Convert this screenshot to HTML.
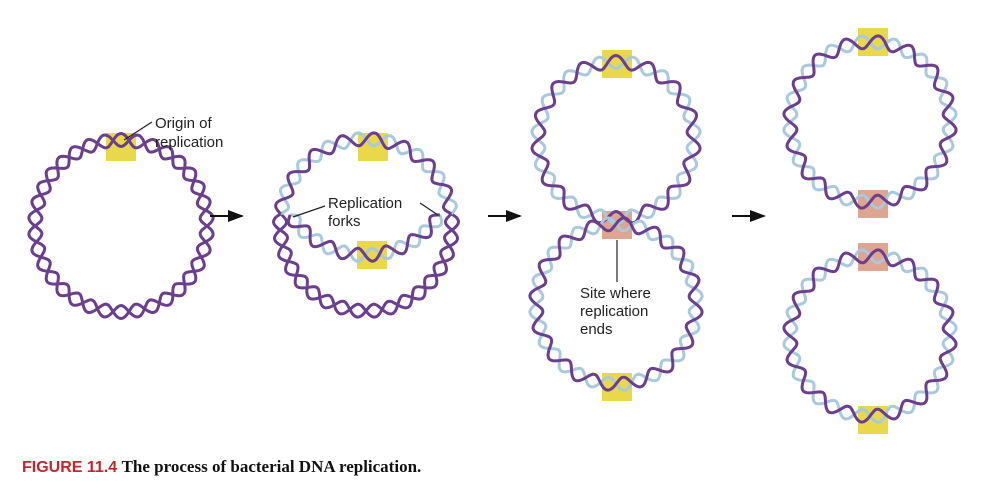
<!DOCTYPE html>
<html><head><meta charset="utf-8"><style>
html,body{margin:0;padding:0;background:#fff;}
svg{display:block}
</style></head><body>
<svg id="s" width="1000" height="493" viewBox="0 0 1000 493" xmlns="http://www.w3.org/2000/svg">
<defs><marker id="ah" markerWidth="8" markerHeight="6" refX="7" refY="3" orient="auto" markerUnits="strokeWidth"><path d="M0,0 L8,3 L0,6 z" fill="#111"/></marker></defs>
<g id="boxes"></g>
<g id="helix"></g>
<g stroke="#222" stroke-width="1.2" fill="none">
<line x1="124" y1="140" x2="152" y2="122"/>
<line x1="293" y1="217" x2="325" y2="206"/>
<line x1="420" y1="203" x2="438" y2="215"/>
<line x1="617" y1="240" x2="617" y2="282"/>
</g>
<g stroke="#111" stroke-width="2">
<line x1="210" y1="216" x2="242" y2="216" marker-end="url(#ah)"/>
<line x1="488" y1="216" x2="520" y2="216" marker-end="url(#ah)"/>
<line x1="732" y1="216" x2="764" y2="216" marker-end="url(#ah)"/>
</g>
<g font-family="Liberation Sans, sans-serif" font-size="15" fill="#222">
<text x="155" y="128">Origin of</text><text x="155" y="147">replication</text>
<text x="328" y="208">Replication</text><text x="328" y="226">forks</text>
<text x="580" y="298">Site where</text><text x="580" y="316">replication</text><text x="580" y="334">ends</text>
</g>
<text x="22" y="472" font-family="Liberation Sans, sans-serif" font-weight="bold" font-size="16" fill="#c8242b">FIGURE 11.4 <tspan font-family="Liberation Serif, serif" fill="#111" font-size="17">The process of bacterial DNA replication.</tspan></text>
</svg>
<script>
var P="#6b3f8e",B="#a9c9dd";
var g=document.getElementById('helix'),bx=document.getElementById('boxes');
function arc(cx,cy,r,a0,a1,c1,c2){
  var len=Math.abs(a1-a0)*r,n=Math.ceil(len/1.5),per=len/Math.max(1,Math.round(len/32)),amp=6.5;
  [[-1,c2],[1,c1]].forEach(function(sd){
    var d="";
    for(var i=0;i<=n;i++){var t=a0+(a1-a0)*i/n,s=len*i/n;
      var rr=r+sd[0]*amp*Math.sin(2*Math.PI*s/per);
      d+=(i?"L":"M")+(cx+rr*Math.cos(t)).toFixed(1)+","+(cy+rr*Math.sin(t)).toFixed(1);}
    var p=document.createElementNS("http://www.w3.org/2000/svg","path");
    p.setAttribute("d",d);p.setAttribute("fill","none");p.setAttribute("stroke",sd[1]);p.setAttribute("stroke-width","3");
    g.appendChild(p);
  });
}
function circ(cx,cy,r,c1,c2){arc(cx,cy,r,0,2*Math.PI,c1,c2);}
function box(x,y,c){var r=document.createElementNS("http://www.w3.org/2000/svg","rect");
 r.setAttribute("x",x-15);r.setAttribute("y",y-14);r.setAttribute("width",30);r.setAttribute("height",28);r.setAttribute("fill",c);bx.appendChild(r);}
var Y="#e8d84a",S="#dea591";
circ(121,226,86,P,P);
var af=Math.atan2(-10,-76),ag=Math.atan2(-10,76);
arc(366,225,86,ag,af+2*Math.PI,P,P);
arc(366,225,86,Math.PI+0.13,2*Math.PI-0.13,P,B);
var c2=Math.atan2(50,-75),c1=Math.atan2(50,75);
arc(365,165,90,c2,c1,P,B);
circ(616,140,78,P,B);circ(616,304,80,P,B);
circ(870,122,80,P,B);circ(870,336,80,P,B);
box(121,147,Y);box(373,147,Y);box(372,255,Y);
box(617,64,Y);box(617,225,S);box(617,387,Y);
box(873,42,Y);box(873,204,S);box(873,257,S);box(873,420,Y);
</script>
</body></html>
